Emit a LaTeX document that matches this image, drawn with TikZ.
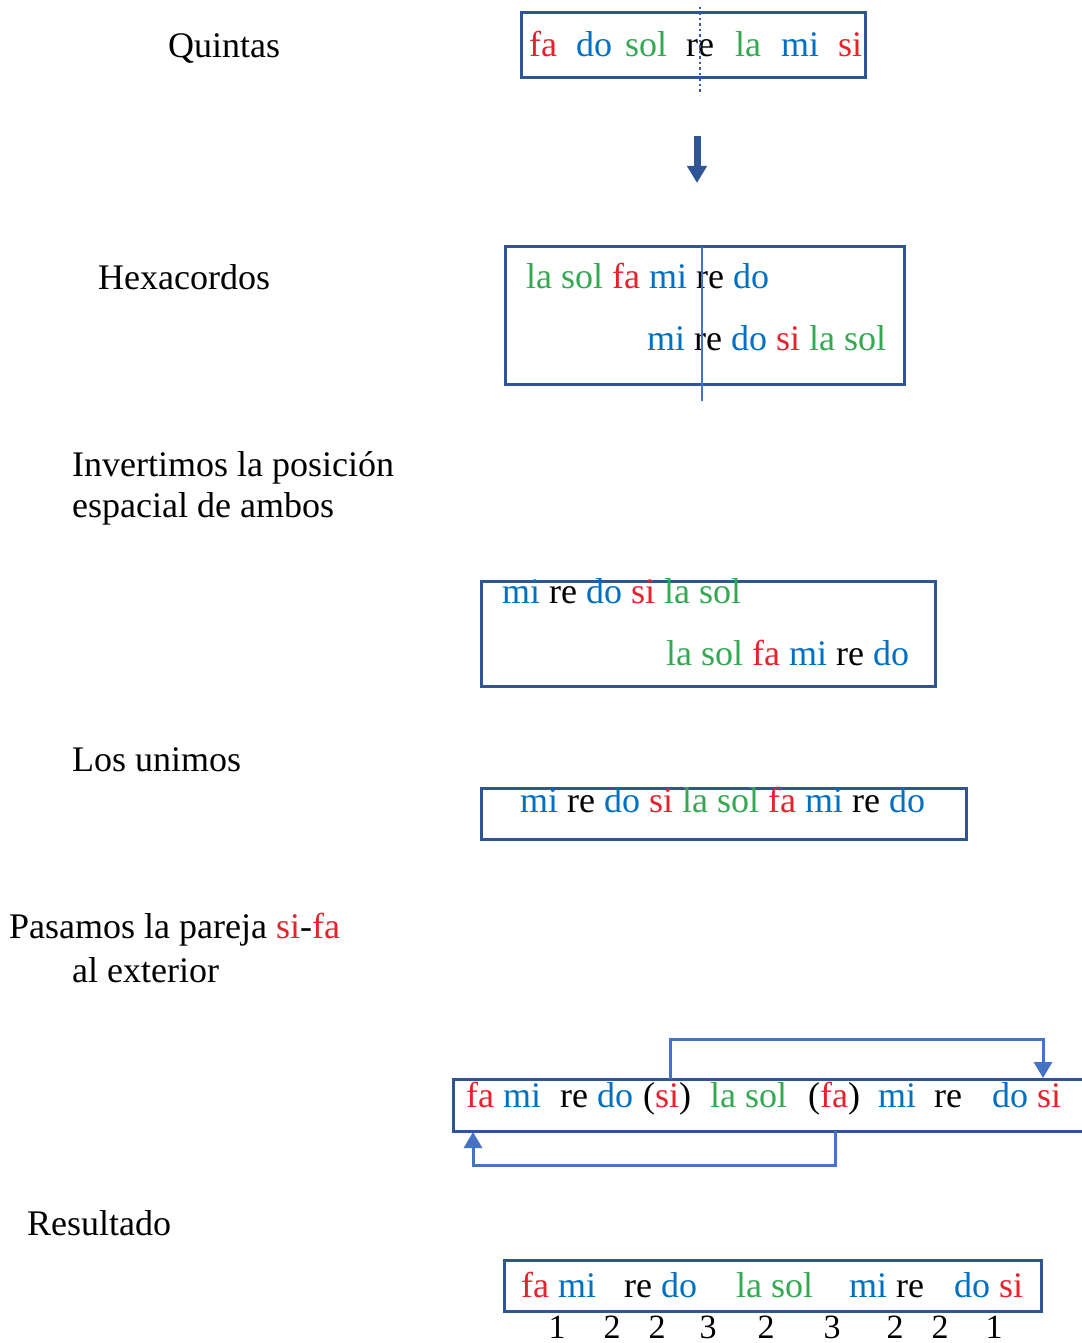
\documentclass[tikz,border=0pt]{standalone}
\usepackage{fontspec}
\setmainfont{Liberation Serif}
\usepackage{tikz}
\usetikzlibrary{arrows.meta}

\definecolor{nred}{RGB}{230,35,45}
\definecolor{nblue}{RGB}{0,112,192}
\definecolor{ngreen}{RGB}{52,168,83}
\definecolor{boxblue}{RGB}{47,85,151}
\definecolor{linkblue}{RGB}{68,114,196}

\newcommand{\rojo}[1]{\textcolor{nred}{#1}}
\newcommand{\azul}[1]{\textcolor{nblue}{#1}}
\newcommand{\verde}[1]{\textcolor{ngreen}{#1}}

\begin{document}
\begin{tikzpicture}[x=1pt,y=-1pt,font=\fontsize{36}{44}\selectfont,
  txt/.style={anchor=base west,inner sep=0pt},
  num/.style={anchor=base,inner sep=0pt,font=\fontsize{34}{40}\selectfont},
  box/.style={draw=boxblue,line width=3pt},
  link/.style={draw=linkblue,line width=3pt,-{Triangle[width=18pt,length=16pt]}}]
 \fill[white] (0,0) rectangle (1081,1343);
 \useasboundingbox (0,0) rectangle (1081,1343);

 \node[txt] (l_quintas) at (168,58) {Quintas};
 \node[txt] (l_hexa) at (98,289) {Hexacordos};
 \node[txt] (l_inv1) at (72,476) {Invertimos la posición};
 \node[txt] (l_inv2) at (72,517) {espacial de ambos};
 \node[txt] (l_unimos) at (72,771) {Los unimos};
 \node[txt] (l_pasa1) at (9,938) {Pasamos la pareja \rojo{si}-\rojo{fa}};
 \node[txt] (l_pasa2) at (72,982) {al exterior};
 \node[txt] (l_res) at (27,1235) {Resultado};

 \draw[box] (521,13) rectangle (865,78);
 \foreach \x/\w/\c [count=\i] in {529/fa/nred,576/do/nblue,625/sol/ngreen,
   686/re/black,735/la/ngreen,781/mi/nblue,838/si/nred}
   \node[txt,text=\c] (q_\i) at (\x,57) {\w};
 \draw[boxblue!80!linkblue,line width=2.5pt,dash pattern=on 2.5pt off 3pt] (700,7) -- (700,95);

 \coordinate (a_top) at (697,136);
 \coordinate (a_bot) at (697,183);
 \draw[boxblue,line width=7pt,-{Triangle[width=19pt,length=17pt]}] (a_top) -- (a_bot);

 \draw[box] (505,246) rectangle (904,384);
 \node[txt] (h_1) at (526,288) {\verde{la sol} \rojo{fa} \azul{mi} re \azul{do}};
 \node[txt] (h_2) at (647,350) {\azul{mi} re \azul{do} \rojo{si} \verde{la sol}};
 \draw[linkblue,line width=1.5pt] (702,247) -- (702,401);

 \draw[box] (481,581) rectangle (935,686);
 \node[txt] (i_1) at (502,603) {\azul{mi} re \azul{do} \rojo{si} \verde{la sol}};
 \node[txt] (i_2) at (666,665) {\verde{la sol} \rojo{fa} \azul{mi} re \azul{do}};

 \draw[box] (481,788) rectangle (966,839);
 \node[txt] (u_1) at (520,812)
   {\azul{mi} re \azul{do} \rojo{si} \verde{la sol} \rojo{fa} \azul{mi} re \azul{do}};

 \draw[box] (453,1079) rectangle (1095,1131);
 \node[txt] (p_1) at (466,1107) {\rojo{fa} \azul{mi}};
 \node[txt] (p_2) at (560,1107) {re \azul{do}};
 \node[txt] (p_si) at (643,1107) {(\rojo{si})};
 \node[txt] (p_3) at (710,1107) {\verde{la sol}};
 \node[txt] (p_fa) at (808,1107) {(\rojo{fa})};
 \node[txt] (p_4) at (878,1107) {\azul{mi}};
 \node[txt] (p_5) at (934,1107) {re};
 \node[txt] (p_6) at (992,1107) {\azul{do} \rojo{si}};

 \coordinate (si_out) at (670,1079);
 \coordinate (si_in) at (1043,1078);
 \coordinate (fa_out) at (835,1131);
 \coordinate (fa_in) at (473,1132);
 \draw[link] (si_out) -- ++(0,-40) -| (si_in);
 \draw[link] (fa_out) -- ++(0,34) -| (fa_in);

 \draw[box] (504,1260) rectangle (1041,1311);
 \node[txt] (r_1) at (521,1297) {\rojo{fa} \azul{mi}};
 \node[txt] (r_2) at (624,1297) {re \azul{do}};
 \node[txt] (r_3) at (736,1297) {\verde{la sol}};
 \node[txt] (r_4) at (849,1297) {\azul{mi} re};
 \node[txt] (r_5) at (954,1297) {\azul{do} \rojo{si}};
 \foreach \x/\n [count=\i] in {557/1,612/2,657/2,708/3,766/2,832/3,895/2,940/2,994/1}
   \node[num] (n_\i) at (\x,1338) {\n};
\end{tikzpicture}
\end{document}
